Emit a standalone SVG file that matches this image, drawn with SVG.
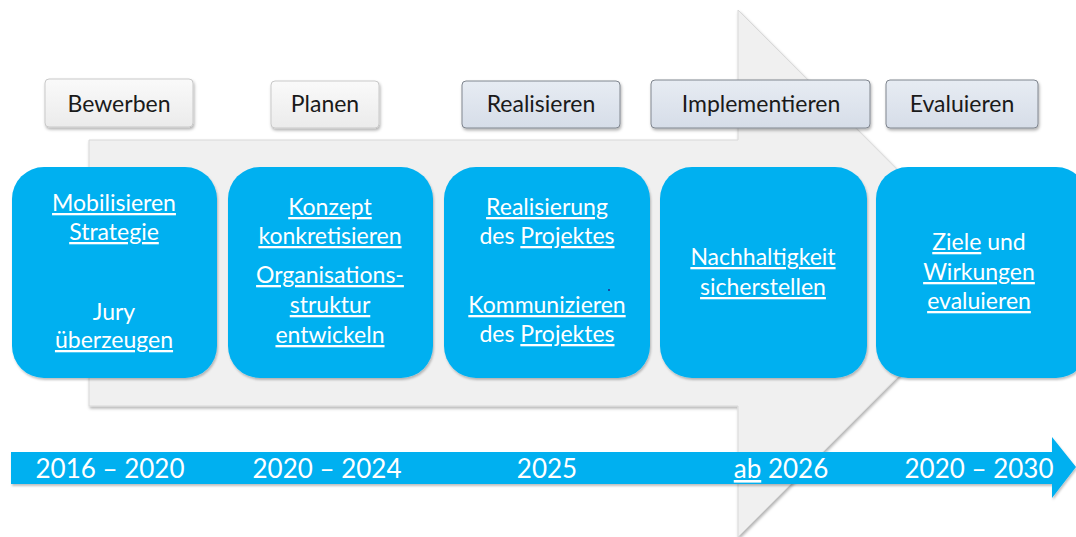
<svg xmlns="http://www.w3.org/2000/svg" width="1076" height="537" viewBox="0 0 1076 537">
<defs>
<filter id="sh" x="-10%" y="-10%" width="120%" height="130%">
<feDropShadow dx="1" dy="2" stdDeviation="1.5" flood-color="#000" flood-opacity="0.3"/>
</filter>
<filter id="shb" x="-5%" y="-5%" width="110%" height="115%">
<feDropShadow dx="1" dy="2" stdDeviation="1.2" flood-color="#000" flood-opacity="0.25"/>
</filter>
<linearGradient id="gGrey" x1="0" y1="0" x2="0" y2="1">
<stop offset="0" stop-color="#fafafa"/>
<stop offset="1" stop-color="#ebebeb"/>
</linearGradient>
<linearGradient id="gBlue" x1="0" y1="0" x2="0" y2="1">
<stop offset="0" stop-color="#e7ecf3"/>
<stop offset="1" stop-color="#d6dde8"/>
</linearGradient>
</defs>
<style>
.big{fill:#f0f0f0;stroke:#d8d8d8;stroke-width:1}
.lblG{fill:url(#gGrey);stroke:#c9c9c9;stroke-width:1}
.lblB{fill:url(#gBlue);stroke:#80868f;stroke-width:1}
.lt{font-family:Lato,"Liberation Sans",sans-serif;font-size:23px;fill:#1a1a1a;text-anchor:middle}
.box{fill:#00b0f0}
.bt{font-family:Lato,"Liberation Sans",sans-serif;font-size:23px;fill:#ffffff;text-anchor:middle}
.u{text-decoration:underline}
.yr{font-family:Lato,"Liberation Sans",sans-serif;font-size:26px;fill:#ffffff;text-anchor:middle}
</style>
<rect width="1076" height="537" fill="#ffffff"/>

<g id="bigArrow">
<path class="big" filter="url(#sh)" d="M89,140 H738 V10 L1001,273.5 L738,537 V406 H89 Z"/>
</g>

<g id="timeline">
<path class="box" filter="url(#shb)" d="M11,452 H1052 V437 L1076,467 L1052,498 V484 H11 Z"/>
<text class="yr" x="110" y="478">2016 – 2020</text>
<text class="yr" x="327" y="478">2020 – 2024</text>
<text class="yr" x="547" y="478">2025</text>
<text class="yr" x="781" y="478"><tspan class="u">ab</tspan> 2026</text>
<text class="yr" x="979" y="478">2020 – 2030</text>
</g>

<g id="phase-bewerben">
<rect class="lblG" filter="url(#sh)" x="45" y="79" width="148" height="48" rx="4"/>
<text class="lt" x="119" y="112">Bewerben</text>
</g>
<g id="phase-planen">
<rect class="lblG" filter="url(#sh)" x="271" y="81" width="108" height="47" rx="4"/>
<text class="lt" x="325" y="112">Planen</text>
</g>
<g id="phase-realisieren">
<rect class="lblB" filter="url(#sh)" x="462" y="81" width="158" height="47" rx="4"/>
<text class="lt" x="541" y="112">Realisieren</text>
</g>
<g id="phase-implementieren">
<rect class="lblB" filter="url(#sh)" x="651" y="80" width="219" height="48" rx="4"/>
<text class="lt" x="761" y="112">Implementieren</text>
</g>
<g id="phase-evaluieren">
<rect class="lblB" filter="url(#sh)" x="886" y="80" width="152" height="48" rx="4"/>
<text class="lt" x="962" y="112">Evaluieren</text>
</g>

<g id="box1">
<rect class="box" filter="url(#shb)" x="12" y="167" width="205" height="211" rx="32"/>
<text class="bt" x="114" y="211"><tspan class="u">Mobilisieren</tspan></text>
<text class="bt" x="114" y="240"><tspan class="u">Strategie</tspan></text>
<text class="bt" x="114" y="320">Jury</text>
<text class="bt" x="114" y="348"><tspan class="u">überzeugen</tspan></text>
</g>
<g id="box2">
<rect class="box" filter="url(#shb)" x="228" y="167" width="205" height="211" rx="32"/>
<text class="bt" x="330" y="215"><tspan class="u">Konzept</tspan></text>
<text class="bt" x="330" y="244"><tspan class="u">konkretisieren</tspan></text>
<text class="bt" x="330" y="283"><tspan class="u">Organisations-</tspan></text>
<text class="bt" x="330" y="313"><tspan class="u">struktur</tspan></text>
<text class="bt" x="330" y="343"><tspan class="u">entwickeln</tspan></text>
</g>
<g id="box3">
<rect class="box" filter="url(#shb)" x="444" y="167" width="206" height="211" rx="32"/>
<text class="bt" x="547" y="215"><tspan class="u">Realisierung</tspan></text>
<text class="bt" x="547" y="244">des <tspan class="u">Projektes</tspan></text>
<text class="bt" x="547" y="313"><tspan class="u">Kommunizieren</tspan></text>
<text class="bt" x="547" y="342">des <tspan class="u">Projektes</tspan></text>
<circle cx="609" cy="290" r="1" fill="#1a2a8a"/>
</g>
<g id="box4">
<rect class="box" filter="url(#shb)" x="660" y="167" width="207" height="211" rx="32"/>
<text class="bt" x="763" y="265"><tspan class="u">Nachhaltigkeit</tspan></text>
<text class="bt" x="763" y="295"><tspan class="u">sicherstellen</tspan></text>
</g>
<g id="box5">
<rect class="box" filter="url(#shb)" x="876" y="167" width="212" height="211" rx="32"/>
<text class="bt" x="979" y="250"><tspan class="u">Ziele</tspan> und</text>
<text class="bt" x="979" y="280"><tspan class="u">Wirkungen</tspan></text>
<text class="bt" x="979" y="309"><tspan class="u">evaluieren</tspan></text>
</g>
</svg>
